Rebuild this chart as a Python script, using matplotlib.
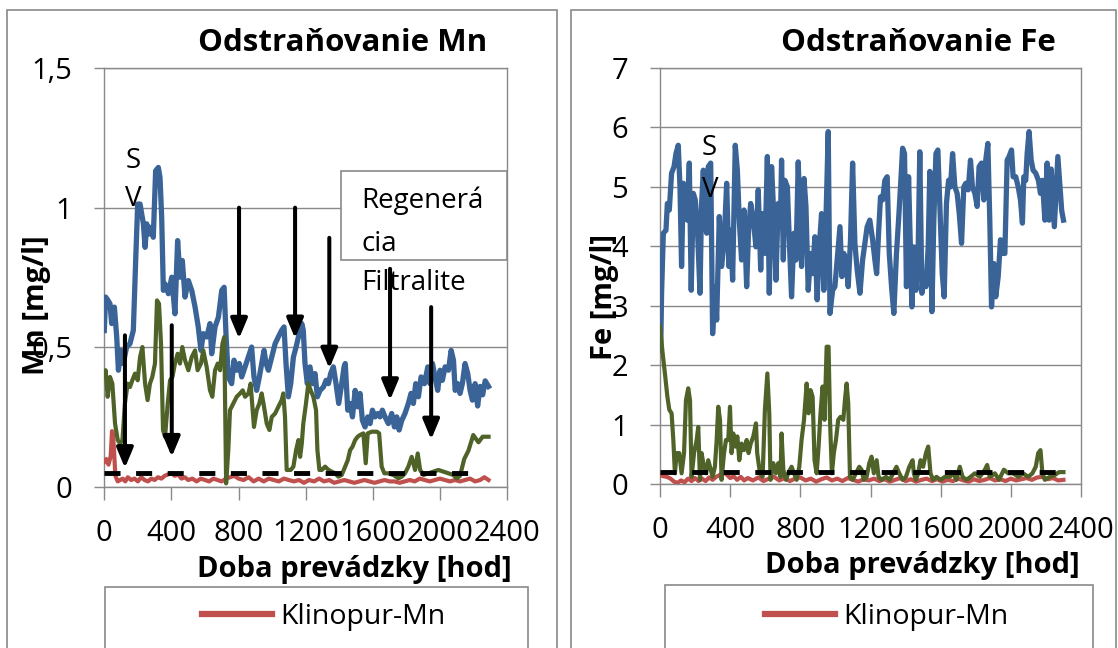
import matplotlib.pyplot as plt
from matplotlib.patches import Rectangle
from matplotlib.lines import Line2D

plt.rcParams['font.family'] = ['Open Sans', 'DejaVu Sans']

# ---------------- Mn panel data ----------------
mn_blue_x = [0, 8, 20, 34, 44, 60, 74, 84, 100, 113,
             133, 153, 173, 187, 199, 213, 233, 243, 253, 267,
             282, 292, 306, 322, 332, 342, 352, 362, 382, 402,
             421, 437, 451, 465, 481, 501, 521, 541, 560, 576,
             590, 610, 630, 640, 660, 680, 700, 714, 726, 739,
             759, 773, 789, 805, 819, 839, 859, 878, 892, 908,
             924, 938, 952, 964, 978, 998, 1018, 1037, 1057, 1071,
             1083, 1097, 1111, 1127, 1143, 1157, 1177, 1186, 1196, 1210,
             1226, 1242, 1256, 1270, 1286, 1306, 1322, 1336, 1349, 1365,
             1381, 1397, 1415, 1429, 1436, 1451, 1465, 1479, 1495, 1510,
             1524, 1538, 1554, 1570, 1584, 1598, 1614, 1630, 1643, 1657,
             1673, 1693, 1713, 1729, 1743, 1757, 1773, 1792, 1812, 1828,
             1842, 1856, 1872, 1888, 1908, 1928, 1941, 1956, 1971, 1987,
             2001, 2015, 2031, 2051, 2067, 2081, 2091, 2106, 2120, 2134,
             2150, 2166, 2180, 2194, 2210, 2225, 2240, 2255, 2270, 2290]
mn_blue_y = [0.56, 0.68, 0.67, 0.656, 0.585, 0.644, 0.537, 0.418, 0.489, 0.442,
             0.501, 0.513, 0.561, 0.811, 1.013, 1.013, 0.942, 0.858, 0.942, 0.906,
             0.930, 0.894, 1.132, 1.144, 1.108, 0.965, 0.704, 0.727, 0.692, 0.751,
             0.620, 0.882, 0.751, 0.811, 0.680, 0.739, 0.704, 0.644, 0.573, 0.489,
             0.549, 0.537, 0.585, 0.477, 0.573, 0.608, 0.704, 0.715, 0.537, 0.394,
             0.370, 0.454, 0.418, 0.442, 0.394, 0.430, 0.465, 0.501, 0.394, 0.346,
             0.394, 0.442, 0.489, 0.442, 0.418, 0.465, 0.513, 0.537, 0.561, 0.573,
             0.442, 0.323, 0.370, 0.465, 0.501, 0.537, 0.585, 0.561, 0.442, 0.370,
             0.430, 0.370, 0.406, 0.323, 0.346, 0.358, 0.382, 0.370, 0.406, 0.430,
             0.370, 0.299, 0.370, 0.430, 0.442, 0.275, 0.299, 0.251, 0.346, 0.287,
             0.335, 0.239, 0.215, 0.251, 0.227, 0.275, 0.251, 0.263, 0.251, 0.275,
             0.251, 0.227, 0.263, 0.215, 0.251, 0.204, 0.239, 0.263, 0.299, 0.335,
             0.299, 0.370, 0.323, 0.394, 0.370, 0.430, 0.370, 0.442, 0.394, 0.346,
             0.418, 0.382, 0.430, 0.418, 0.489, 0.454, 0.346, 0.370, 0.335, 0.370,
             0.442, 0.406, 0.346, 0.311, 0.370, 0.290, 0.360, 0.330, 0.380, 0.360]

mn_green_x = [0, 8, 20, 34, 48, 64, 80, 94, 108, 123,
              139, 153, 167, 183, 199, 213, 227, 243, 258, 272,
              286, 302, 314, 326, 338, 350, 362, 378, 392, 406,
              421, 437, 451, 465, 481, 501, 521, 541, 556, 576,
              590, 610, 630, 644, 660, 676, 690, 704, 715, 726,
              739, 749, 769, 789, 809, 825, 839, 859, 872, 884,
              892, 908, 924, 938, 952, 968, 984, 998, 1018, 1037,
              1057, 1067, 1077, 1087, 1097, 1111, 1127, 1143, 1157, 1167,
              1177, 1186, 1202, 1216, 1230, 1246, 1262, 1270, 1282, 1296,
              1316, 1336, 1355, 1375, 1395, 1415, 1435, 1451, 1465, 1479,
              1495, 1510, 1524, 1544, 1558, 1570, 1594, 1624, 1638, 1653,
              1669, 1693, 1723, 1753, 1773, 1792, 1812, 1832, 1852, 1868,
              1882, 1902, 1932, 1961, 1991, 2021, 2051, 2081, 2100, 2120,
              2145, 2170, 2199, 2230, 2255, 2290]
mn_green_y = [0.40, 0.418, 0.323, 0.394, 0.370, 0.227, 0.168, 0.156, 0.168, 0.299,
              0.370, 0.358, 0.382, 0.406, 0.382, 0.465, 0.501, 0.370, 0.311, 0.370,
              0.394, 0.442, 0.668, 0.656, 0.513, 0.204, 0.180, 0.299, 0.382, 0.394,
              0.442, 0.477, 0.442, 0.501, 0.454, 0.418, 0.465, 0.489, 0.418, 0.442,
              0.489, 0.430, 0.346, 0.323, 0.418, 0.442, 0.418, 0.513, 0.537, 0.013,
              0.132, 0.275, 0.299, 0.323, 0.335, 0.346, 0.323, 0.335, 0.370, 0.275,
              0.215, 0.275, 0.299, 0.335, 0.287, 0.227, 0.204, 0.251, 0.263, 0.287,
              0.311, 0.335, 0.251, 0.061, 0.061, 0.061, 0.073, 0.132, 0.168, 0.108,
              0.156, 0.227, 0.299, 0.370, 0.346, 0.323, 0.275, 0.132, 0.061, 0.061,
              0.073, 0.061, 0.055, 0.049, 0.037, 0.043, 0.073, 0.096, 0.132, 0.144,
              0.168, 0.180, 0.186, 0.192, 0.085, 0.192, 0.198, 0.198, 0.192, 0.073,
              0.049, 0.049, 0.043, 0.031, 0.037, 0.049, 0.073, 0.108, 0.061, 0.120,
              0.061, 0.043, 0.049, 0.055, 0.061, 0.055, 0.049, 0.043, 0.031, 0.040,
              0.100, 0.130, 0.186, 0.160, 0.180, 0.180]

mn_red_x = [0, 12, 25, 38, 46, 52, 58, 66, 80, 95,
            110, 125, 140, 160, 180, 200, 220, 240, 260, 280,
            300, 320, 340, 360, 380, 400, 420, 440, 460, 480,
            500, 525, 550, 575, 600, 625, 650, 675, 700, 725,
            750, 775, 800, 830, 860, 890, 920, 950, 980, 1010,
            1040, 1070, 1100, 1130, 1160, 1190, 1220, 1250, 1280, 1310,
            1340, 1370, 1400, 1430, 1460, 1490, 1520, 1550, 1580, 1610,
            1640, 1670, 1700, 1730, 1760, 1790, 1820, 1850, 1880, 1910,
            1940, 1970, 2000, 2030, 2060, 2090, 2120, 2150, 2180, 2210,
            2240, 2265, 2290]
mn_red_y = [0.09, 0.10, 0.08, 0.11, 0.20, 0.19, 0.13, 0.04, 0.02, 0.025,
            0.03, 0.02, 0.035, 0.025, 0.03, 0.02, 0.035, 0.025, 0.02, 0.03,
            0.025, 0.035, 0.03, 0.04, 0.045, 0.05, 0.04, 0.045, 0.03, 0.035,
            0.025, 0.03, 0.02, 0.03, 0.025, 0.02, 0.03, 0.025, 0.02, 0.03,
            0.035, 0.04, 0.03, 0.025, 0.035, 0.02, 0.03, 0.02, 0.03, 0.025,
            0.02, 0.03, 0.025, 0.02, 0.025, 0.015, 0.025, 0.02, 0.03, 0.02,
            0.025, 0.015, 0.02, 0.025, 0.02, 0.015, 0.02, 0.025, 0.02, 0.015,
            0.02, 0.025, 0.02, 0.02, 0.015, 0.02, 0.025, 0.02, 0.03, 0.025,
            0.02, 0.025, 0.03, 0.025, 0.02, 0.025, 0.02, 0.025, 0.03, 0.02,
            0.025, 0.035, 0.025]

mn_limit = 0.05
mn_limit_end = 2240

# regeneration arrows (hours, top, tip)
arrow_x = [123, 402, 803, 1137, 1341, 1703, 1948]
arrow_top = [0.543, 0.579, 1.0, 1.0, 0.892, 0.781, 0.644]
arrow_tip = [0.068, 0.108, 0.531, 0.532, 0.424, 0.311, 0.170]

# ---------------- Fe panel data ----------------
fe_blue_x = [0, 4, 9, 19, 34, 42, 53, 66, 80, 91,
             104, 114, 123, 133, 148, 156, 167, 178, 190, 201,
             213, 228, 237, 247, 256, 266, 275, 289, 300, 313,
             323, 338, 351, 365, 380, 393, 403, 414, 429, 441,
             452, 465, 479, 494, 505, 517, 532, 547, 560, 574,
             585, 598, 612, 623, 636, 650, 661, 674, 687, 693,
             703, 712, 726, 737, 750, 764, 775, 788, 798, 807,
             821, 832, 845, 859, 870, 883, 896, 908, 921, 934,
             946, 959, 969, 984, 997, 1010, 1026, 1037, 1048, 1060,
             1073, 1086, 1098, 1111, 1124, 1140, 1155, 1168, 1181, 1196,
             1212, 1225, 1235, 1246, 1257, 1269, 1282, 1295, 1307, 1320,
             1333, 1348, 1360, 1371, 1383, 1394, 1405, 1417, 1428, 1436,
             1447, 1459, 1472, 1481, 1493, 1504, 1516, 1529, 1538, 1550,
             1561, 1573, 1584, 1595, 1609, 1620, 1633, 1645, 1656, 1668,
             1681, 1694, 1706, 1719, 1732, 1743, 1757, 1770, 1781, 1795,
             1808, 1819, 1833, 1846, 1857, 1869, 1880, 1890, 1903, 1914,
             1928, 1941, 1952, 1966, 1979, 1990, 2004, 2013, 2028, 2042,
             2055, 2066, 2074, 2085, 2093, 2104, 2116, 2127, 2142, 2157,
             2169, 2180, 2194, 2207, 2218, 2230, 2248, 2268, 2290, 2300]
fe_blue_y = [2.30, 2.25, 3.21, 4.22, 4.27, 4.72, 4.61, 5.23, 5.34, 5.56,
             5.70, 5.00, 3.66, 5.06, 5.00, 4.44, 5.40, 3.26, 4.89, 4.78,
             4.33, 3.21, 4.72, 5.28, 4.44, 4.22, 5.34, 5.40, 2.53, 3.32,
             2.76, 4.50, 3.66, 4.05, 5.06, 3.66, 4.27, 3.43, 5.70, 5.28,
             4.44, 3.77, 4.61, 3.32, 4.27, 4.72, 4.44, 3.99, 4.95, 3.60,
             4.55, 3.88, 5.51, 3.21, 5.34, 4.44, 3.43, 4.72, 4.44, 5.45,
             3.77, 5.11, 5.00, 4.11, 3.15, 4.22, 3.77, 5.42, 4.44, 3.66,
             5.14, 4.67, 3.26, 3.88, 3.54, 4.16, 3.10, 3.99, 4.55, 3.26,
             4.44, 5.93, 2.87, 3.26, 3.32, 3.77, 4.33, 3.49, 3.88, 3.77,
             3.32, 4.11, 5.40, 4.05, 3.60, 3.21, 3.77, 4.05, 4.33, 4.44,
             4.11, 3.77, 3.54, 4.22, 4.83, 4.78, 5.11, 5.17, 3.88, 3.32,
             2.87, 3.88, 4.44, 5.00, 5.65, 5.56, 3.32, 5.17, 3.90, 2.98,
             3.99, 3.26, 3.99, 5.59, 3.21, 3.54, 3.32, 3.99, 5.26, 2.90,
             4.44, 5.56, 5.62, 4.72, 3.54, 3.15, 4.72, 5.11, 5.00, 5.56,
             5.00, 4.89, 4.55, 4.05, 5.00, 5.06, 4.95, 5.45, 5.00, 4.89,
             4.67, 5.34, 5.40, 4.78, 5.45, 5.73, 4.44, 2.98, 3.71, 3.15,
             3.49, 4.11, 3.88, 3.88, 5.45, 5.51, 5.62, 5.17, 5.17, 5.00,
             4.78, 4.39, 5.17, 5.11, 5.56, 5.93, 5.45, 5.28, 5.23, 5.11,
             4.89, 5.11, 4.44, 5.40, 4.44, 5.30, 4.33, 5.51, 4.60, 4.44]

fe_green_x = [0, 15, 28, 42, 53, 66, 76, 85, 95, 110,
              123, 137, 148, 161, 171, 180, 194, 209, 218, 228,
              237, 247, 262, 275, 289, 300, 313, 323, 332, 342,
              351, 365, 376, 389, 399, 408, 418, 429, 441, 452,
              465, 479, 494, 505, 517, 532, 547, 554, 570, 585,
              598, 612, 623, 630, 646, 661, 674, 687, 693, 703,
              718, 731, 750, 764, 779, 794, 807, 821, 836, 847,
              858, 870, 881, 893, 904, 915, 927, 938, 950, 961,
              969, 980, 991, 1003, 1016, 1029, 1045, 1056, 1064, 1073,
              1083, 1098, 1117, 1136, 1149, 1162, 1178, 1193, 1206, 1219,
              1235, 1246, 1263, 1288, 1310, 1329, 1348, 1364, 1383, 1402,
              1421, 1440, 1447, 1459, 1472, 1485, 1500, 1516, 1529, 1542,
              1557, 1576, 1599, 1624, 1652, 1671, 1690, 1709, 1725, 1747,
              1770, 1795, 1823, 1852, 1865, 1880, 1909, 1933, 1960, 1985,
              2013, 2042, 2070, 2099, 2123, 2142, 2156, 2169, 2180, 2194,
              2222, 2250, 2275, 2300]
fe_green_y = [2.65, 2.20, 1.86, 1.47, 1.25, 1.19, 0.74, 0.18, 0.52, 0.52,
              0.18, 0.52, 1.41, 1.61, 1.41, 0.12, 0.52, 0.74, 0.96, 0.07,
              0.52, 0.35, 0.18, 0.40, 0.24, 0.12, 0.29, 0.74, 1.30, 1.08,
              0.07, 0.52, 0.74, 0.74, 1.30, 0.52, 0.85, 0.63, 0.80, 0.40,
              0.68, 0.57, 0.74, 0.52, 0.68, 0.80, 1.02, 0.52, 0.18, 0.12,
              1.25, 1.86, 1.19, 0.07, 0.35, 0.18, 0.35, 0.12, 0.85, 0.24,
              0.07, 0.18, 0.29, 0.18, 0.07, 0.29, 0.74, 1.08, 1.69, 1.19,
              1.58, 1.47, 0.40, 0.18, 0.63, 1.19, 1.64, 1.08, 2.31, 2.31,
              1.08, 0.18, 0.52, 0.74, 1.08, 1.13, 1.08, 1.47, 1.69, 1.36,
              0.12, 0.07, 0.18, 0.29, 0.24, 0.07, 0.12, 0.35, 0.46, 0.18,
              0.40, 0.12, 0.07, 0.12, 0.07, 0.18, 0.29, 0.18, 0.07, 0.12,
              0.29, 0.40, 0.18, 0.07, 0.18, 0.40, 0.29, 0.52, 0.63, 0.18,
              0.07, 0.12, 0.07, 0.12, 0.12, 0.18, 0.07, 0.29, 0.12, 0.07,
              0.12, 0.18, 0.12, 0.24, 0.32, 0.12, 0.18, 0.07, 0.24, 0.18,
              0.18, 0.12, 0.18, 0.12, 0.18, 0.29, 0.52, 0.57, 0.18, 0.07,
              0.12, 0.15, 0.20, 0.20]

fe_red_x = [0, 20, 40, 60, 80, 100, 120, 140, 160, 180,
            200, 220, 240, 260, 280, 300, 320, 340, 360, 380,
            400, 420, 440, 460, 480, 500, 530, 560, 590, 620,
            650, 680, 710, 740, 770, 800, 830, 860, 890, 920,
            950, 980, 1010, 1040, 1070, 1100, 1130, 1160, 1190, 1220,
            1250, 1280, 1310, 1340, 1370, 1400, 1430, 1460, 1490, 1520,
            1550, 1580, 1610, 1640, 1670, 1700, 1730, 1760, 1790, 1820,
            1850, 1880, 1910, 1940, 1970, 2000, 2030, 2060, 2090, 2120,
            2150, 2180, 2210, 2240, 2270, 2300]
fe_red_y = [0.15, 0.13, 0.12, 0.09, 0.04, 0.02, 0.06, 0.03, 0.09, 0.05,
            0.10, 0.05, 0.09, 0.05, 0.11, 0.07, 0.12, 0.15, 0.20, 0.16,
            0.10, 0.13, 0.07, 0.12, 0.06, 0.10, 0.06, 0.11, 0.05, 0.09,
            0.12, 0.06, 0.10, 0.05, 0.09, 0.11, 0.06, 0.09, 0.04, 0.08,
            0.11, 0.06, 0.09, 0.05, 0.10, 0.07, 0.04, 0.08, 0.06, 0.09,
            0.05, 0.08, 0.04, 0.07, 0.10, 0.05, 0.08, 0.04, 0.07, 0.09,
            0.05, 0.08, 0.04, 0.07, 0.05, 0.09, 0.06, 0.04, 0.08, 0.05,
            0.07, 0.10, 0.06, 0.08, 0.05, 0.09, 0.06, 0.08, 0.10, 0.07,
            0.11, 0.12, 0.08, 0.10, 0.06, 0.07]

fe_limit = 0.2
fe_limit_end = 2300

x_ticks = [0, 400, 800, 1200, 1600, 2000, 2400]
mn_ticks = [0, 0.5, 1, 1.5]
mn_tick_labels = ['0', '0,5', '1', '1,5']
fe_ticks = [0, 1, 2, 3, 4, 5, 6, 7]

BLUE = '#3A6497'
GREEN = '#4F6228'
RED = '#C0504D'
GRAY = '#898989'

W, H = 1118, 648


def fx(px):
    return px / W


def fy(py):
    return 1 - py / H


fig = plt.figure(figsize=(W / 100, H / 100), dpi=100)

# chart-area frames and the (cut off) legend boxes
for x0, x1 in [(7, 557), (571, 1116)]:
    fig.add_artist(Rectangle((fx(x0), -0.02), fx(x1) - fx(x0), fy(10) + 0.02,
                             transform=fig.transFigure, fill=False,
                             edgecolor=GRAY, lw=1.2))
for x0, x1, y0 in [(105, 528, 587), (665, 1093, 585)]:
    fig.add_artist(Rectangle((fx(x0), -0.02), fx(x1) - fx(x0), fy(y0) + 0.02,
                             transform=fig.transFigure, fill=False,
                             edgecolor=GRAY, lw=1.2))

ax1 = fig.add_axes([fx(104.3), fy(487), fx(507) - fx(104.3), fy(68) - fy(487)])
ax2 = fig.add_axes([fx(660), fy(484), fx(1081) - fx(660), fy(68) - fy(484)])


def style_axes(ax, ymax, yticks, ylabels, ylabel, label_x, label_y, xlabel_x):
    ax.set_xlim(0, 2400)
    ax.set_ylim(0, ymax)
    ax.set_xticks(x_ticks)
    ax.set_xticklabels([str(t) for t in x_ticks])
    ax.set_yticks(yticks)
    ax.set_yticklabels(ylabels)
    ax.grid(axis='y', color=GRAY, lw=1)
    ax.set_axisbelow(True)
    for s in ax.spines.values():
        s.set_color(GRAY)
        s.set_linewidth(1)
    ax.tick_params(axis='y', length=7, width=1, color=GRAY, pad=16, labelsize=21)
    ax.tick_params(axis='x', length=9, width=1, color=GRAY, pad=14, labelsize=21)
    ax.set_ylabel(ylabel, fontsize=21, fontweight='bold', va='center')
    ax.yaxis.set_label_coords(label_x, label_y)
    ax.set_xlabel('Doba prevádzky [hod]', fontsize=21, fontweight='bold', va='center')
    ax.xaxis.set_label_coords(xlabel_x, -0.197)


style_axes(ax1, 1.5, mn_ticks, mn_tick_labels, 'Mn [mg/l]', -0.168, 0.434, 0.621)
style_axes(ax2, 7, fe_ticks, [str(t) for t in fe_ticks], 'Fe [mg/l]', -0.132, 0.45, 0.622)

# Mn lines
ax1.plot(mn_red_x, mn_red_y, color=RED, lw=3, zorder=3)
ax1.plot(mn_blue_x, mn_blue_y, color=BLUE, lw=3.8, zorder=3)
ax1.plot(mn_green_x, mn_green_y, color=GREEN, lw=3, zorder=3)
ax1.plot([0, mn_limit_end], [mn_limit, mn_limit], color='black', lw=3.5,
         dashes=(3.3, 3.2), zorder=4)

# Fe lines
ax2.plot(fe_red_x, fe_red_y, color=RED, lw=3, zorder=3)
ax2.plot(fe_blue_x, fe_blue_y, color=BLUE, lw=3.8, zorder=3)
ax2.plot(fe_green_x, fe_green_y, color=GREEN, lw=3, zorder=3)
ax2.plot([0, fe_limit_end], [fe_limit, fe_limit], color='black', lw=3.5,
         dashes=(3.3, 3.2), zorder=4)

# "S V" markers
ax1.text(171, 1.168, 'S', fontsize=20, ha='center', va='center', zorder=6)
ax1.text(171, 1.032, 'V', fontsize=20, ha='center', va='center', zorder=6)
ax2.text(279, 5.65, 'S', fontsize=20, ha='center', va='center', zorder=6)
ax2.text(285, 4.95, 'V', fontsize=20, ha='center', va='center', zorder=6)

# regeneration note box
ax1.add_patch(Rectangle((1411, 0.811), 2400 - 1411, 1.132 - 0.811,
                        facecolor='white', edgecolor=GRAY, lw=1.2, zorder=5,
                        clip_on=False))
for txt, yy in zip(['Regenerá', 'cia', 'Filtralite'], [1.025, 0.871, 0.729]):
    ax1.text(1530, yy, txt, fontsize=20, ha='left', va='center', zorder=6)

# arrows
for x, top, tip in zip(arrow_x, arrow_top, arrow_tip):
    ax1.annotate('', xy=(x, tip), xytext=(x, top),
                 arrowprops=dict(arrowstyle='-|>,head_length=0.6,head_width=0.25',
                                 mutation_scale=20, lw=2.9, color='black',
                                 shrinkA=0, shrinkB=0),
                 zorder=7)

# titles
fig.text(fx(343), fy(43), 'Odstraňovanie Mn', fontsize=22.5, fontweight='bold',
         ha='center', va='center')
fig.text(fx(918), fy(43), 'Odstraňovanie Fe', fontsize=22.5, fontweight='bold',
         ha='center', va='center')

# legends (only the first entry fits in view)
handle = Line2D([], [], color=RED, lw=4.5)
for ax, lx in [(ax1, 202), (ax2, 765)]:
    ax.legend([handle], ['Klinopur-Mn'], loc='center left',
              bbox_to_anchor=(fx(lx), fy(617)), bbox_transform=fig.transFigure,
              frameon=False, borderpad=0, borderaxespad=0, handlelength=2.45,
              handletextpad=0.3, fontsize=20.5)

fig.savefig('out.png', dpi=100)
